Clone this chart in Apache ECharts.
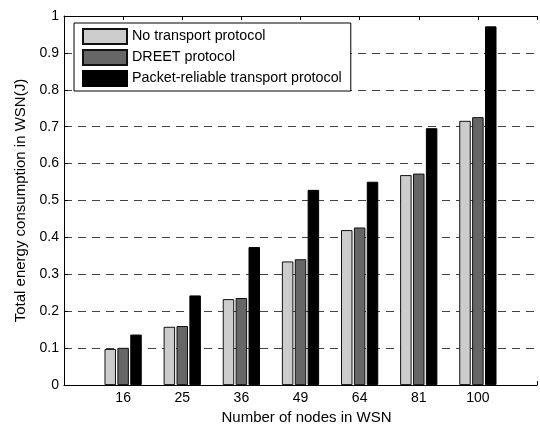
<!DOCTYPE html>
<html>
<head>
<meta charset="utf-8">
<script src="https://cdn.jsdelivr.net/npm/echarts@6/dist/echarts.min.js"></script>
<style>
html,body{margin:0;padding:0;background:#fff;}
#chart{width:540px;height:430px;}
</style>
</head>
<body>
<div id="chart"></div>
<script>
var categories = ['16', '25', '36', '49', '64', '81', '100'];
var noTransport = [0.098, 0.158, 0.233, 0.335, 0.420, 0.569, 0.716];
var dreet = [0.101, 0.160, 0.236, 0.341, 0.427, 0.573, 0.726];
var packetReliable = [0.137, 0.243, 0.374, 0.529, 0.551, 0.696, 0.972];
var seriesNames = ['No transport protocol', 'DREET protocol', 'Packet-reliable transport protocol'];
var yTicks = ['0', '0.1', '0.2', '0.3', '0.4', '0.5', '0.6', '0.7', '0.8', '0.9', '1'];

// pad with empty slots so categories sit at 1..7 of an axis spanning 0..8
var axisCats = [''].concat(categories).concat(['']);
function pad(arr) { return [null].concat(arr).concat([null]); }

var FONT = '"Liberation Sans", Arial, Helvetica, sans-serif';
var chart = echarts.init(document.getElementById('chart'), null, {renderer: 'canvas'});

var axisLineStyle = {color: '#000', width: 1};
var option = {
  animation: false,
  backgroundColor: '#fff',
  grid: {left: 64, top: 16, width: 477, height: 376.7, containLabel: false},
  legend: {
    show: true,
    orient: 'vertical',
    left: 74,
    top: 23,
    padding: [5, 9, 4, 8],
    itemWidth: 44,
    itemHeight: 15,
    itemGap: 4,
    backgroundColor: '#fff',
    borderColor: '#000',
    borderWidth: 1,
    borderRadius: 0,
    icon: 'rect',
    textStyle: {fontFamily: FONT, fontSize: 14.3, color: '#000'},
    data: seriesNames
  },
  xAxis: [{
    type: 'category',
    data: axisCats,
    boundaryGap: false,
    position: 'bottom',
    axisLine: {show: true, lineStyle: axisLineStyle},
    axisTick: {show: true, inside: true, length: 4, interval: 0, lineStyle: axisLineStyle},
    axisLabel: {show: true, interval: 0, margin: 6, fontFamily: FONT, fontSize: 14, color: '#000'},
    splitLine: {show: false},
    name: 'Number of nodes in WSN',
    nameLocation: 'middle',
    nameGap: 16,
    nameTextStyle: {fontFamily: FONT, fontSize: 15, color: '#000', padding: [0, 0, 0, 12]}
  }, {
    type: 'category',
    data: axisCats,
    boundaryGap: false,
    position: 'top',
    axisLine: {show: true, lineStyle: axisLineStyle},
    axisTick: {show: true, inside: true, length: 4, interval: 0, lineStyle: axisLineStyle},
    axisLabel: {show: false},
    splitLine: {show: false}
  }],
  yAxis: {
    type: 'value',
    min: 0,
    max: 1,
    interval: 0.1,
    axisLine: {show: true, lineStyle: axisLineStyle},
    axisTick: {show: true, inside: true, length: 4, lineStyle: axisLineStyle},
    axisLabel: {
      margin: 5, fontFamily: FONT, fontSize: 14, color: '#000',
      formatter: function (v) { return yTicks[Math.round(v * 10)]; }
    },
    splitLine: {show: true, lineStyle: {color: '#444', width: 1, type: [8, 6]}},
    name: 'Total energy consumption in WSN(J)',
    nameLocation: 'middle',
    nameGap: 36,
    nameTextStyle: {fontFamily: FONT, fontSize: 15, color: '#000'}
  },
  series: [{
    name: seriesNames[0],
    type: 'bar',
    xAxisIndex: 0,
    data: pad(noTransport),
    barWidth: 11.5,
    barGap: '12%',
    itemStyle: {color: '#cccccc', borderColor: '#111', borderWidth: 1}
  }, {
    name: seriesNames[1],
    type: 'bar',
    xAxisIndex: 0,
    data: pad(dreet),
    barWidth: 11.5,
    barGap: '12%',
    itemStyle: {color: '#666666', borderColor: '#111', borderWidth: 1}
  }, {
    name: seriesNames[2],
    type: 'bar',
    xAxisIndex: 0,
    data: pad(packetReliable),
    barWidth: 11.5,
    barGap: '12%',
    itemStyle: {color: '#000000', borderColor: '#000', borderWidth: 1}
  }]
};
chart.setOption(option);
</script>
</body>
</html>
